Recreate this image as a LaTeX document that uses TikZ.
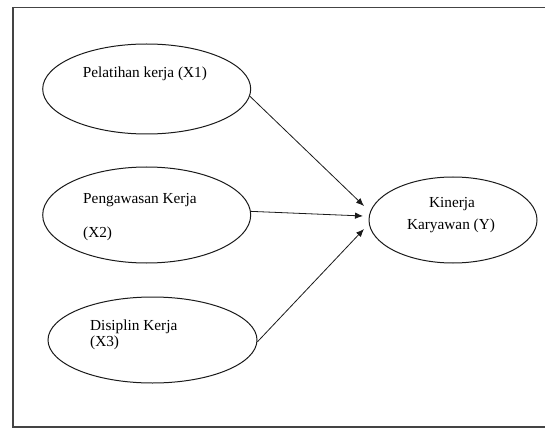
\documentclass[tikz,border=0pt]{standalone}
\usepackage{fontspec}
\setmainfont{Liberation Serif}
\usetikzlibrary{shapes.geometric,arrows.meta}
\definecolor{ink}{HTML}{1A1A1A}
\definecolor{framegray}{HTML}{444444}
\tikzset{
  oval/.style={draw=ink, line width=1pt, ellipse, inner sep=0pt},
  lbl/.style={text=black, inner sep=0pt, font=\fontsize{15.3}{18}\selectfont},
  conn/.style={draw=ink, line width=0.8pt, -{Latex[length=8pt,width=6.5pt]}},
  frameline/.style={draw=framegray, line width=1.5pt}
}
\begin{document}
\begin{tikzpicture}[x=1pt,y=-1pt]
\useasboundingbox (0,0) rectangle (545,430);
% frame
\coordinate (ftr) at (545,7.5);
\coordinate (ftl) at (13,7.5);
\coordinate (fbl) at (13,427);
\coordinate (fbr) at (545,427);
\draw[frameline] (ftr) -- (ftl) -- (fbl) -- (fbr);
% ellipses
\node[oval, minimum width=208pt, minimum height=90pt] (x1) at (146.7,89) {};
\node[oval, minimum width=208pt, minimum height=96pt] (x2) at (146.7,215) {};
\node[oval, minimum width=209pt, minimum height=86pt] (x3) at (152.5,340) {};
\node[oval, minimum width=168pt, minimum height=86pt] (y) at (453,220) {};
% texts
\node[lbl, anchor=base west] (t1) at (82.7,77.7) {Pelatihan kerja (X1)};
\node[lbl, anchor=base west] (t2a) at (83,203.3) {Pengawasan Kerja};
\node[lbl, anchor=base west] (t2b) at (83,237.3) {(X2)};
\node[lbl, anchor=base west] (t3a) at (90,330.7) {Disiplin Kerja};
\node[lbl, anchor=base west] (t3b) at (90,346.7) {(X3)};
\node[lbl, anchor=base] (tya) at (452,207.3) {Kinerja};
\node[lbl, anchor=base] (tyb) at (451,229) {Karyawan (Y)};
% arrow end points
\coordinate (e1) at (364,206);
\coordinate (e2) at (363,216);
\coordinate (e3) at (364,229);
\draw[conn] (x1.-4) -- (e1);
\draw[conn] (x2.2) -- (e2);
\draw[conn] (x3.-1.7) -- (e3);
\end{tikzpicture}
\end{document}
